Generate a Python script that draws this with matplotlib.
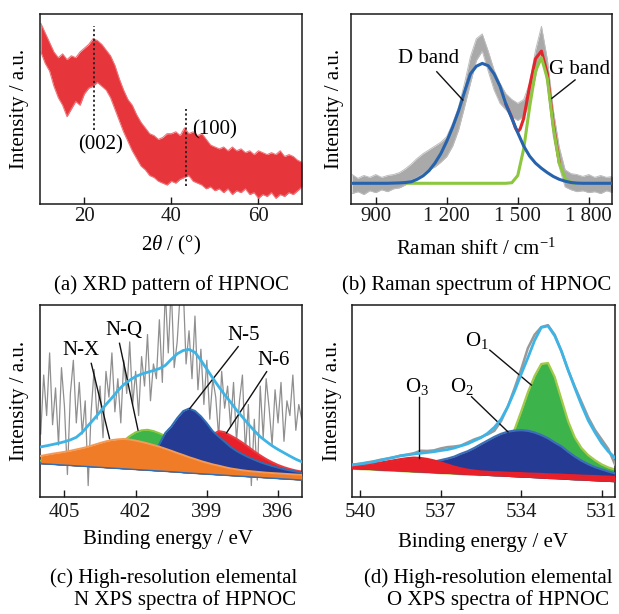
import matplotlib
matplotlib.use("Agg")
import matplotlib.pyplot as plt

plt.rcParams["font.family"] = ["Liberation Serif", "DejaVu Serif"]
plt.rcParams["mathtext.fontset"] = "custom"
plt.rcParams["mathtext.rm"] = "Liberation Serif"
plt.rcParams["mathtext.it"] = "Liberation Serif:italic"
plt.rcParams["font.size"] = 15

# ---- (a) XRD: band of the noisy trace (upper / lower envelope) ----
xrd_two_theta = [10, 11, 12, 13, 14, 15, 16, 17, 18, 19, 20, 21, 22, 23, 24, 25, 26, 27, 28, 29,
                 30, 31, 32, 33, 34, 35, 36, 37, 38, 39, 40, 41, 42, 43, 44, 45, 46, 47, 48, 49,
                 50, 51, 52, 53, 54, 55, 56, 57, 58, 59, 60, 61, 62, 63, 64, 65, 66, 67, 68, 69, 70]
xrd_upper = [95, 90, 85, 80, 77, 79, 76, 78, 77, 80, 82, 84, 87, 86, 84, 81, 78, 73, 66, 60,
             55, 52, 47, 43, 40, 37, 36, 34, 35, 37, 37, 38, 36, 40, 37, 38, 36, 37, 34, 31,
             30, 29, 30, 28, 30, 28, 29, 27, 28, 26, 28, 27, 26, 27, 26, 28, 25, 26, 25, 23, 22]
xrd_lower = [80, 74, 70, 62, 56, 52, 46, 50, 54, 52, 58, 61, 62, 64, 62, 60, 56, 50, 44, 38,
             33, 28, 24, 20, 18, 15, 14, 12, 11, 10, 12, 11, 13, 14, 15, 12, 11, 10, 8, 9,
             7, 8, 6, 8, 5, 7, 6, 8, 5, 6, 3, 5, 4, 6, 3, 5, 4, 6, 5, 7, 9]
xrd_peak_pos = [22.3, 43.3]
xrd_peak_labels = ["(002)", "(100)"]

# ---- (b) Raman ----
raman_shift = [800, 825, 850, 875, 900, 925, 950, 975, 1000, 1025, 1050, 1075, 1100, 1125, 1150,
               1175, 1200, 1225, 1250, 1275, 1300, 1325, 1350, 1375, 1400, 1425, 1450, 1475, 1500,
               1525, 1550, 1575, 1600, 1625, 1650, 1675, 1700, 1725, 1750, 1775, 1800, 1825, 1850,
               1875, 1900]
raman_upper = [15.5, 13.5, 15.0, 14.0, 15.5, 14.0, 15.0, 15.5, 16.5, 18.5, 21.0, 24.0, 26.5, 28.5,
               30.5, 32.5, 35.5, 42.5, 51.0, 63.5, 77.5, 87.0, 89.5, 80.5, 70.5, 63.5, 58.0, 55.0,
               53.0, 55.0, 63.5, 81.0, 93.5, 76.0, 49.5, 30.0, 18.0, 16.0, 15.5, 14.5, 15.5, 14.0,
               15.0, 14.0, 14.5]
raman_lower = [5.5, 6.5, 5.0, 7.0, 6.0, 7.5, 6.5, 8.0, 8.5, 10.0, 12.5, 14.0, 16.0, 18.0, 19.5,
               22.0, 25.0, 30.5, 39.0, 51.0, 63.5, 75.5, 80.5, 70.0, 60.0, 53.0, 49.5, 46.0, 44.0,
               46.0, 53.0, 67.0, 81.0, 62.0, 35.5, 19.5, 9.0, 7.5, 6.5, 7.0, 6.0, 6.5, 5.5, 7.0, 6.0]
raman_d_band = [10.9, 10.9, 10.9, 10.9, 10.9, 10.9, 10.9, 11.0, 11.1, 11.3, 11.7, 13.0, 14.8, 17.5,
                21.5, 26.5, 33.0, 40.5, 49.0, 59.0, 68.5, 72.5, 74.0, 72.8, 68.5, 62.0, 52.5, 45.0,
                37.5, 30.5, 25.2, 21.5, 18.8, 16.5, 14.5, 13.0, 12.0, 11.3, 11.0, 10.9, 10.9, 10.9,
                10.9, 10.9, 10.9]
g_shift = [1030, 1450, 1475, 1500, 1525, 1550, 1575, 1600, 1625, 1650, 1675, 1700, 1725, 1740]
raman_g_band = [10.9, 10.9, 11.2, 15.0, 29.0, 51.0, 70.0, 77.0, 66.0, 40.5, 21.5, 13.5, 11.3, 10.9]
sum_shift = [1450, 1475, 1490, 1500, 1510, 1525, 1550, 1575, 1600, 1625, 1650, 1675]
raman_sum = [52.5, 45.5, 40.0, 38.0, 39.5, 45.0, 62.0, 76.5, 80.5, 68.5, 42.0, 22.0]

# ---- (c) N 1s XPS ----
n_energy = [406.0, 405.75, 405.5, 405.25, 405.0, 404.75, 404.5, 404.25, 404.0, 403.75, 403.5,
            403.25, 403.0, 402.75, 402.5, 402.25, 402.0, 401.75, 401.5, 401.25, 401.0, 400.75,
            400.5, 400.25, 400.0, 399.75, 399.5, 399.25, 399.0, 398.75, 398.5, 398.25, 398.0,
            397.75, 397.5, 397.25, 397.0, 396.75, 396.5, 396.25, 396.0, 395.75, 395.5, 395.25, 395.0]
n_background = [13.9, 13.7, 13.5, 13.3, 13.1, 12.9, 12.7, 12.5, 12.3, 12.1, 11.9, 11.7, 11.5, 11.3,
                11.1, 10.9, 10.7, 10.5, 10.3, 10.1, 9.9, 9.7, 9.5, 9.3, 9.0, 8.8, 8.6, 8.4, 8.2,
                8.0, 7.8, 7.6, 7.4, 7.2, 7.0, 6.8, 6.6, 6.4, 6.2, 6.0, 5.8, 5.6, 5.4, 5.2, 5.0]
n_x = [18.1, 18.7, 19.3, 19.8, 20.3, 20.9, 21.6, 22.3, 23.1, 24.1, 25.1, 26.0, 26.7, 27.1, 27.3,
       27.0, 26.4, 25.7, 24.9, 24.0, 23.1, 22.0, 20.9, 19.7, 18.6, 17.4, 16.4, 15.3, 14.4, 13.5,
       12.8, 12.0, 11.3, 10.8, 10.3, 9.9, 9.6, 9.3, 9.0, 8.8, 8.6, 8.4, 8.2, 8.0, 7.8]
n_q = [15.5, 15.5, 15.6, 15.7, 15.8, 16.0, 16.3, 16.7, 17.2, 17.9, 18.8, 20.0, 21.6, 23.8, 26.4,
       28.9, 30.9, 32.0, 32.3, 31.6, 30.4, 28.9, 27.3, 25.6, 23.9, 22.2, 20.6, 19.0, 17.6, 16.3,
       15.1, 14.0, 13.0, 12.2, 11.4, 10.8, 10.2, 9.7, 9.2, 8.8, 8.4, 8.0, 7.7, 7.4, 7.1]
n_5 = [14.3, 14.1, 13.9, 13.7, 13.5, 13.3, 13.1, 12.9, 12.7, 12.5, 12.3, 12.1, 11.9, 11.7, 11.5,
       12.5, 13.5, 15.0, 17.0, 20.0, 24.5, 30.6, 34.0, 38.6, 42.4, 43.8, 42.5, 39.6, 35.8, 31.5,
       28.6, 25.8, 23.0, 20.8, 19.0, 17.4, 16.0, 14.7, 13.6, 12.6, 11.7, 10.9, 10.2, 9.6, 9.0]
n_6 = [14.2, 14.0, 13.8, 13.6, 13.4, 13.2, 13.0, 12.8, 12.6, 12.4, 12.2, 12.0, 11.8, 11.6, 11.4,
       11.2, 11.0, 10.8, 10.6, 10.4, 10.2, 10.0, 9.8, 10.5, 11.5, 13.5, 16.5, 20.5, 25.5, 29.8,
       31.6, 31.0, 29.2, 27.4, 25.3, 23.0, 20.6, 18.4, 16.4, 14.7, 13.2, 12.0, 11.0, 10.2, 9.6]
n_envelope = [23.0, 23.6, 24.3, 25.0, 25.8, 26.8, 28.2, 30.9, 34.6, 38.2, 42.0, 46.0, 49.6, 53.5,
              56.8, 59.2, 61.2, 62.5, 63.5, 64.4, 65.5, 67.2, 70.5, 73.5, 75.3, 75.9, 74.3, 70.0,
              65.2, 60.3, 55.7, 51.3, 47.3, 43.0, 39.2, 35.3, 31.8, 28.5, 26.0, 23.6, 21.6, 19.8,
              18.0, 16.3, 14.9]
n_raw_energy = [406.0, 405.875, 405.75, 405.625, 405.5, 405.375, 405.25, 405.125,
                405.0, 404.875, 404.75, 404.625, 404.5, 404.375, 404.25, 404.125,
                404.0, 403.875, 403.75, 403.625, 403.5, 403.375, 403.25, 403.125,
                403.0, 402.875, 402.75, 402.625, 402.5, 402.375, 402.25, 402.125,
                402.0, 401.875, 401.75, 401.625, 401.5, 401.375, 401.25, 401.125,
                401.0, 400.875, 400.75, 400.625, 400.5, 400.375, 400.25, 400.125,
                400.0, 399.875, 399.75, 399.625, 399.5, 399.375, 399.25, 399.125,
                399.0, 398.875, 398.75, 398.625, 398.5, 398.375, 398.25, 398.125,
                398.0, 397.875, 397.75, 397.625, 397.5, 397.375, 397.25, 397.125,
                397.0, 396.875, 396.75, 396.625, 396.5, 396.375, 396.25, 396.125,
                396.0, 395.875, 395.75, 395.625, 395.5, 395.375, 395.25, 395.125, 395.0]
n_raw = [30, 62, 40, 74, 35, 55, 24, 66,
         45, 8, 52, 70, 36, 58, 30, 48,
         2, 42, 65, 38, 56, 28, 64, 50,
         74, 42, 60, 36, 70, 52, 80, 46,
         64, 40, 72, 56, 84, 48, 68, 60,
         92, 58, 108, 74, 110, 66, 80, 106,
         112, 68, 86, 60, 94, 54, 76, 46,
         70, 38, 60, 50, 28, 64, 44, 56,
         34, 58, 26, 48, 62, 20, 46, 2,
         38, 5, 56, 28, 60, 44, 24, 54,
         36, 58, 26, 48, 40, 62, 32, 46, 38]

# ---- (d) O 1s XPS ----
o_energy = [540.5, 540.25, 540.0, 539.75, 539.5, 539.25, 539.0, 538.75, 538.5, 538.25, 538.0,
            537.75, 537.5, 537.25, 537.0, 536.75, 536.5, 536.25, 536.0, 535.75, 535.5, 535.25,
            535.0, 534.75, 534.5, 534.25, 534.0, 533.75, 533.5, 533.25, 533.0, 532.75, 532.5,
            532.25, 532.0, 531.75, 531.5, 531.25, 531.0, 530.75, 530.5]
o_background = [14.9, 14.7, 14.5, 14.4, 14.2, 14.0, 13.8, 13.7, 13.5, 13.3, 13.1, 13.0, 12.8, 12.6,
                12.4, 12.3, 12.1, 11.9, 11.7, 11.6, 11.4, 11.2, 11.0, 10.9, 10.7, 10.5, 10.3,
                10.2, 10.0, 9.8, 9.6, 9.5, 9.3, 9.1, 8.9, 8.8, 8.6, 8.4, 8.2, 8.1, 7.9]
o_3 = [16.0, 16.3, 16.6, 17.0, 17.4, 17.9, 18.5, 19.1, 19.7, 20.2, 20.5, 20.3, 19.8, 19.0, 18.0,
       16.9, 15.8, 14.9, 14.2, 13.7, 13.3, 13.1, 12.9, 12.8, 12.6, 12.5, 12.4, 12.2, 12.1, 12.0,
       11.8, 11.7, 11.6, 11.4, 11.3, 11.1, 11.0, 10.9, 10.7, 10.6, 10.4]
o_2 = [15.2, 15.2, 15.2, 15.2, 15.2, 15.3, 15.4, 15.6, 15.8, 16.0, 16.4, 16.9, 17.6, 18.4, 19.2,
       20.0, 21.0, 22.5, 23.8, 25.5, 27.5, 29.4, 31.3, 32.9, 34.0, 34.6, 34.8, 34.5, 33.6, 32.3,
       30.6, 28.4, 26.4, 23.6, 21.1, 18.9, 17.1, 15.6, 14.4, 13.3, 12.3]
o_1 = [14.9, 14.7, 14.5, 14.4, 14.2, 14.0, 13.8, 13.7, 13.5, 13.3, 13.1, 13.0, 12.8, 12.6, 12.4,
       12.3, 12.1, 11.9, 11.7, 11.6, 11.4, 16.0, 18.0, 21.0, 26.0, 35.0, 44.5, 54.5, 63.0, 69.3,
       69.8, 62.5, 51.0, 39.5, 31.0, 25.5, 21.8, 19.2, 17.0, 15.4, 14.3]
o_envelope = [16.3, 16.8, 17.2, 17.7, 18.3, 19.1, 19.9, 20.7, 21.4, 21.9, 22.4, 22.8, 23.2, 23.6,
              24.2, 24.7, 25.5, 26.6, 27.7, 29.3, 30.9, 33.2, 36.3, 40.5, 47.0, 55.0, 64.0, 72.5,
              81.5, 88.3, 89.1, 84.0, 76.0, 66.2, 56.9, 48.0, 39.9, 33.7, 28.1, 23.7, 20.5]
o_raw = [16.3, 16.9, 17.4, 18.0, 18.6, 19.4, 20.0, 20.6, 21.6, 22.1, 22.8, 24.1, 24.0, 24.3, 25.3,
         26.0, 26.3, 26.8, 28.4, 30.0, 31.2, 32.6, 34.5, 39.5, 47.0, 56.5, 66.5, 77.5, 84.5, 88.5,
         89.5, 84.5, 76.0, 66.0, 57.5, 49.5, 41.5, 35.0, 30.0, 25.0, 17.0]

W, H = 619, 614
fig = plt.figure(figsize=(W / 100, H / 100), dpi=100)


def px_box(left, top, right, bottom):
    return [left / W, 1 - bottom / H, (right - left) / W, (bottom - top) / H]


def fig_text(x_px, y_px, s, **kw):
    kw.setdefault("ha", "center")
    kw.setdefault("va", "baseline")
    fig.text(x_px / W, 1 - y_px / H, s, fontsize=15, **kw)


def style_axes(ax, xlim, ylim, ticks, labels=None, pad=2.0):
    ax.set_xlim(*xlim)
    ax.set_ylim(*ylim)
    ax.set_xticks(ticks)
    if labels is not None:
        ax.set_xticklabels(labels)
    ax.set_yticks([])
    ax.tick_params(axis="x", direction="in", length=5, width=1.0, pad=pad,
                   labelsize=15, colors="#1a1a1a")
    for spine in ax.spines.values():
        spine.set_linewidth(1.1)
        spine.set_color("#1a1a1a")


def leader(ax, start, end):
    ax.plot([start[0], end[0]], [start[1], end[1]], color="#111111", lw=1.0, zorder=6)


# (a) XRD
ax = fig.add_axes(px_box(40, 14, 302, 204))
ax.fill_between(xrd_two_theta, xrd_lower, xrd_upper, color="#e6353b", lw=0)
ax.plot(xrd_two_theta, xrd_upper, color="#ee7478", lw=0.8)
ax.plot(xrd_two_theta, xrd_lower, color="#ee7478", lw=0.8)
ax.vlines(xrd_peak_pos, [39, 9.5], [93.7, 49.8], colors="#222222", lw=1.3,
          linestyles=(0, (1.2, 1.4)), zorder=5)
ax.text(23.7, 31, xrd_peak_labels[0], ha="center", va="center", fontsize=15)
ax.text(49.9, 39, xrd_peak_labels[1], ha="center", va="center", fontsize=15)
style_axes(ax, (9.8, 70.0), (0, 100), [20, 40, 60], pad=2.0)

# (b) Raman
ax = fig.add_axes(px_box(351, 14, 612, 204))
ax.fill_between(raman_shift, raman_lower, raman_upper, color="#a9a9a9", lw=0)
ax.plot(raman_shift, raman_upper, color="#bdbdbd", lw=0.7)
ax.plot(raman_shift, raman_lower, color="#bdbdbd", lw=0.7)
ax.plot(sum_shift, raman_sum, color="#e3262c", lw=2.2, zorder=3)
ax.plot(g_shift, raman_g_band, color="#8dc63f", lw=2.2, zorder=4)
ax.plot(raman_shift, raman_d_band, color="#2763ad", lw=2.2, zorder=5)
ax.text(1122, 76.7, "D band", ha="center", va="center", fontsize=15)
leader(ax, (1158, 69.6), (1268, 54.7))
ax.text(1761, 71, "G band", ha="center", va="center", fontsize=15)
leader(ax, (1742, 65.3), (1644, 55.6))
style_axes(ax, (795.6, 1898), (0, 100), [900, 1200, 1500, 1800],
           ["900", "1 200", "1 500", "1 800"], pad=2.0)

# (c) N XPS
ax = fig.add_axes(px_box(40, 305, 302, 497))
ax.plot(n_raw_energy, n_raw, color="#8f8f8f", lw=0.9, zorder=1)
components_c = [
    (n_6, "#e8202a", "#ea3b42"),
    (n_q, "#3db54a", "#8cc63f"),
    (n_5, "#243a93", "#2f6db5"),
    (n_x, "#f07c27", "#f59a55"),
]
for z, (comp, fill, edge) in enumerate(components_c):
    ax.fill_between(n_energy, n_background, comp, color=fill, lw=0, zorder=2 + z)
    ax.plot(n_energy, comp, color=edge, lw=1.4, zorder=2 + z)
ax.plot(n_energy, n_background, color="#2f6db5", lw=1.0, zorder=7)
ax.plot(n_energy, n_envelope, color="#3db4e5", lw=2.0, zorder=8)
ax.text(404.3, 75.5, "N-X", ha="center", va="center", fontsize=15)
leader(ax, (403.87, 68.3), (403.1, 27.5))
ax.text(402.5, 86, "N-Q", ha="center", va="center", fontsize=15)
leader(ax, (402.68, 79.2), (401.9, 32.1))
ax.text(397.46, 83.3, "N-5", ha="center", va="center", fontsize=15)
leader(ax, (397.68, 77.4), (399.72, 43.8))
ax.text(396.17, 69.7, "N-6", ha="center", va="center", fontsize=15)
leader(ax, (396.48, 63.8), (398.17, 30.6))
style_axes(ax, (406.03, 394.99), (-4.2, 100), [405, 402, 399, 396], pad=4.0)

# (d) O XPS
ax = fig.add_axes(px_box(352, 305, 615, 497))
components_d = [
    (o_1, "#3cb44b", "#a3c94a"),
    (o_2, "#243a93", "#3b6fb6"),
    (o_3, "#e8202a", "#e8202a"),
]
for z, (comp, fill, edge) in enumerate(components_d):
    ax.fill_between(o_energy, o_background, comp, color=fill, lw=0, zorder=2 + z)
    ax.plot(o_energy, comp, color=edge, lw=1.6, zorder=2 + z)
ax.plot(o_energy, o_raw, color="#999999", lw=1.8, zorder=6)
ax.plot(o_energy, o_envelope, color="#3db4e5", lw=2.0, zorder=7)
ax.text(535.66, 81.4, "O$_1$", ha="center", va="center", fontsize=15)
leader(ax, (535.17, 76.5), (533.62, 58.3))
ax.text(536.22, 57.7, "O$_2$", ha="center", va="center", fontsize=15)
leader(ax, (535.85, 52.2), (534.49, 33.9))
ax.text(537.89, 57.4, "O$_3$", ha="center", va="center", fontsize=15)
leader(ax, (537.81, 52.2), (537.81, 20.5))
style_axes(ax, (540.31, 530.5), (0, 100), [540, 537, 534, 531], pad=4.0)

# axis titles and captions
for xc, yc in [(20, 109), (335, 109), (20, 401), (333, 401)]:
    fig_text(xc, yc, "Intensity / a.u.", rotation=90, va="center")
fig_text(171, 250.7, r"2$\theta$ / (°)")
fig_text(476, 255, r"Raman shift / cm$^{-1}$")
fig_text(168, 544, "Binding energy / eV")
fig_text(482.5, 546.7, "Binding energy / eV")
fig_text(171, 290, "(a) XRD pattern of HPNOC")
fig_text(477, 290, "(b) Raman spectrum of HPNOC")
fig_text(174, 583.3, "(c) High-resolution elemental")
fig_text(184.5, 605, "N XPS spectra of HPNOC")
fig_text(488, 583.3, "(d) High-resolution elemental")
fig_text(498, 605, "O XPS spectra of HPNOC")

fig.savefig("out.png", dpi=100)
